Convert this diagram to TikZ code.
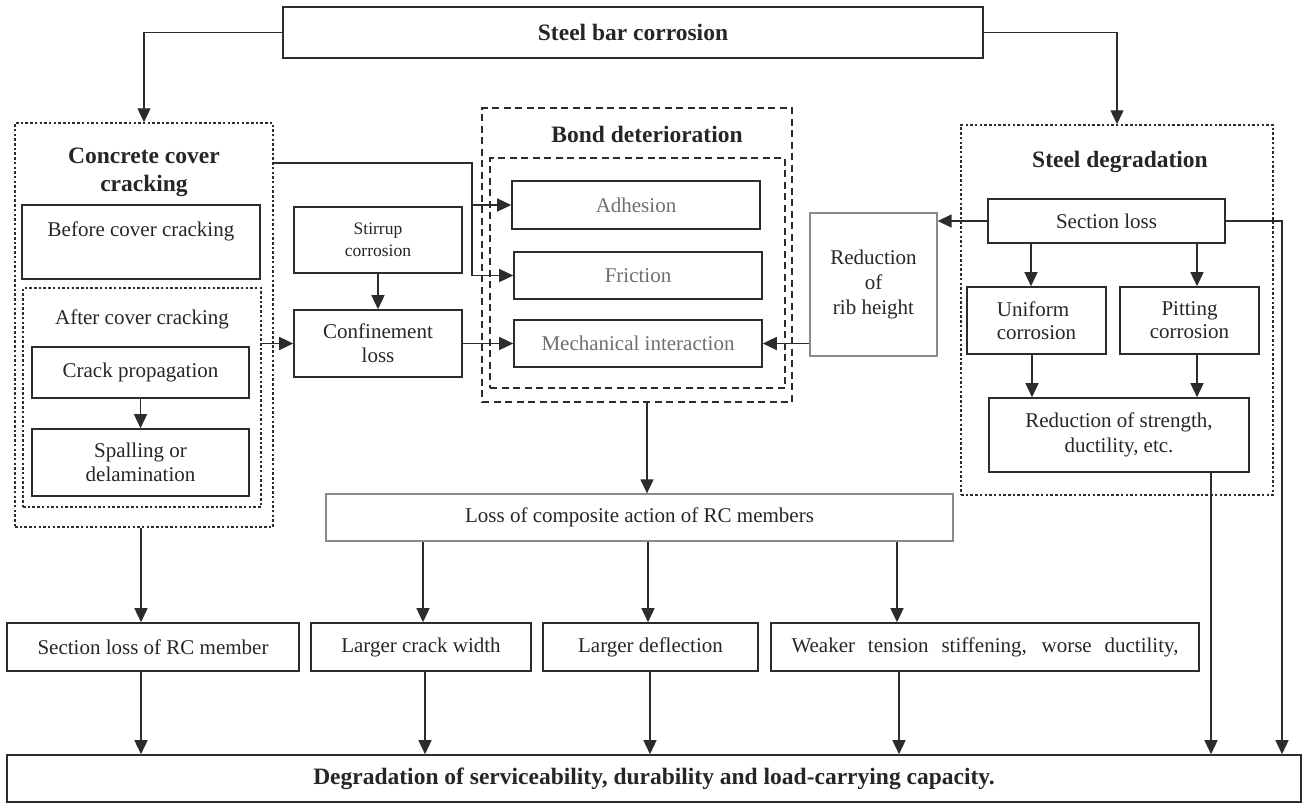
\documentclass[tikz,border=0pt]{standalone}
\usepackage{fontspec}
\setmainfont{Liberation Serif}
\usetikzlibrary{arrows.meta}
\definecolor{txt}{HTML}{262626}
\definecolor{lgray}{HTML}{6E6E6E}
\definecolor{lnc}{HTML}{2C2C2C}
\definecolor{lgb}{HTML}{8A8A8A}
\begin{document}
\begin{tikzpicture}[x=1pt,y=-1pt,
  every node/.style={font=\fontsize{21}{24}\selectfont, text=txt},
  box/.style={draw=lnc, line width=1.6pt, inner sep=0pt, align=center},
  dotbox/.style={draw=lnc, line width=1.5pt, dash pattern=on 2.5pt off 2.2pt, inner sep=0pt},
  dashbox/.style={draw=lnc, line width=2pt, dash pattern=on 7pt off 4.5pt, inner sep=0pt},
  ttl/.style={font=\bfseries\fontsize{23.5}{28}\selectfont, align=center, inner sep=0pt},
  lab/.style={inner sep=0pt, align=center},
  arr/.style={draw=lnc, line width=1.4pt, -{Triangle[length=14pt,width=13pt]}},
  conn/.style={draw=lnc, line width=1.4pt}]
\useasboundingbox (0,0) rectangle (1304,804);

% top
\node[box, minimum width=700pt, minimum height=51pt, font=\bfseries\fontsize{23.5}{28}\selectfont] (top) at (633,32.5) {Steel bar corrosion};

% left group
\node[dotbox, minimum width=258pt, minimum height=404pt] (ccc) at (144,325) {};
\node[ttl, font=\bfseries\fontsize{23.5}{28}\selectfont] (ccct) at (144,172) {Concrete cover\\cracking};
\node[box, minimum width=238pt, minimum height=74pt] (before) at (141,242) {};
\node[lab] (beforet) at (141,231) {Before cover cracking};
\node[dotbox, minimum width=238pt, minimum height=219pt] (after) at (142,397.5) {};
\node[lab] (aftert) at (142,319) {After cover cracking};
\node[box, minimum width=217pt, minimum height=51pt] (crack) at (140.5,372.5) {Crack propagation};
\node[box, minimum width=217pt, minimum height=67pt] (spall) at (140.5,462.5) {Spalling or\\delamination};

% middle left
\node[box, minimum width=168pt, minimum height=66pt, font=\fontsize{17.5}{22}\selectfont] (stir) at (378,240) {Stirrup\\corrosion};
\node[box, minimum width=168pt, minimum height=67pt] (conf) at (378,343.5) {Confinement\\loss};

% bond
\node[dashbox, minimum width=310pt, minimum height=294pt] (bond) at (637,255) {};
\node[ttl] (bondt) at (647,134) {Bond deterioration};
\node[dashbox, minimum width=295pt, minimum height=230pt] (bondi) at (637.5,273) {};
\node[box, minimum width=248pt, minimum height=48pt, text=lgray] (adh) at (636,205) {Adhesion};
\node[box, minimum width=248pt, minimum height=47pt, text=lgray] (fric) at (638,275.5) {Friction};
\node[box, minimum width=248pt, minimum height=47pt, text=lgray] (mech) at (638,343.5) {Mechanical interaction};

% rib
\node[box, draw=lgb, line width=1.3pt, minimum width=127pt, minimum height=143pt, font=\fontsize{21}{25}\selectfont] (rib) at (873.5,284.5) {Reduction\\of\\rib height};

% steel degradation
\node[dotbox, minimum width=312pt, minimum height=370pt] (sd) at (1117,310) {};
\node[ttl] (sdt) at (1120,162) {Steel degradation};
\node[box, minimum width=237pt, minimum height=44pt] (secloss) at (1106.5,221) {Section loss};
\node[box, minimum width=139pt, minimum height=67pt, align=left, font=\fontsize{21}{23}\selectfont] (uni) at (1036.5,320.5) {Uniform\\corrosion};
\node[box, minimum width=139pt, minimum height=67pt, font=\fontsize{21}{23}\selectfont] (pit) at (1189.5,320.5) {Pitting\\corrosion};
\node[box, minimum width=260pt, minimum height=74pt, font=\fontsize{21}{25}\selectfont] (redstr) at (1119,435) {Reduction of strength,\\ductility, etc.};

% bottom
\node[box, draw=lgb, line width=1.3pt, minimum width=627pt, minimum height=47pt] (loss) at (639.5,517.5) {Loss of composite action of RC members};
\node[box, minimum width=292pt, minimum height=48pt] (srcm) at (153,647) {Section loss of RC member};
\node[box, minimum width=220pt, minimum height=48pt] (lcw) at (421,647) {Larger crack width};
\node[box, minimum width=215pt, minimum height=48pt] (ldf) at (650.5,647) {Larger deflection};
\node[box, minimum width=428pt, minimum height=48pt] (wts) at (985,647) {\makebox[387pt][s]{Weaker tension stiffening, worse ductility,}};
\node[box, minimum width=1294pt, minimum height=47pt, font=\bfseries\fontsize{23.5}{28}\selectfont] (final) at (654,778.5) {Degradation of serviceability, durability and load-carrying capacity.};

% connectors
\draw[arr] (top.west) -| (ccc.north);
\draw[arr] (top.east) -| (sd.north);
\coordinate (j1) at (472,163);
\draw[arr] (ccc.east |- j1) -- (j1) |- (fric.west);
\draw[arr] (j1 |- adh.west) -- (adh.west);
\draw[arr] (crack.south) -- (spall.north);
\draw[arr] (stir.south) -- (conf.north);
\draw[arr] (after.east |- conf.west) -- (conf.west);
\draw[arr] (conf.east) -- (mech.west);
\draw[arr] (secloss.west) -- (secloss.west -| rib.east);
\draw[arr] (rib.west |- mech.east) -- (mech.east);
\draw[arr] ([xshift=-5.5pt]uni.north |- secloss.south) -- ([xshift=-5.5pt]uni.north);
\draw[arr] ([xshift=7.5pt]pit.north |- secloss.south) -- ([xshift=7.5pt]pit.north);
\draw[arr] ([xshift=-4.5pt]uni.south) -- ([xshift=-4.5pt]uni.south |- redstr.north);
\draw[arr] ([xshift=7.5pt]pit.south) -- ([xshift=7.5pt]pit.south |- redstr.north);
\coordinate (j2) at (1282,221);
\draw[arr] (secloss.east) -- (j2) -- (j2 |- final.north);
\draw[arr] ([xshift=92pt]redstr.south) -- ([xshift=92pt]redstr.south |- final.north);
\draw[arr] ([xshift=10pt]bond.south) -- ([xshift=10pt]bond.south |- loss.north);
\draw[arr] ([xshift=-3pt]ccc.south) -- ([xshift=-3pt]ccc.south |- srcm.north);
\draw[arr] ([xshift=-216.5pt]loss.south) -- ([xshift=-216.5pt]loss.south |- lcw.north);
\draw[arr] ([xshift=8.5pt]loss.south) -- ([xshift=8.5pt]loss.south |- ldf.north);
\draw[arr] ([xshift=257.5pt]loss.south) -- ([xshift=257.5pt]loss.south |- wts.north);
\draw[arr] ([xshift=-12pt]srcm.south) -- ([xshift=-12pt]srcm.south |- final.north);
\draw[arr] ([xshift=4pt]lcw.south) -- ([xshift=4pt]lcw.south |- final.north);
\draw[arr] ([xshift=-0.5pt]ldf.south) -- ([xshift=-0.5pt]ldf.south |- final.north);
\draw[arr] ([xshift=-86pt]wts.south) -- ([xshift=-86pt]wts.south |- final.north);
\end{tikzpicture}
\end{document}
